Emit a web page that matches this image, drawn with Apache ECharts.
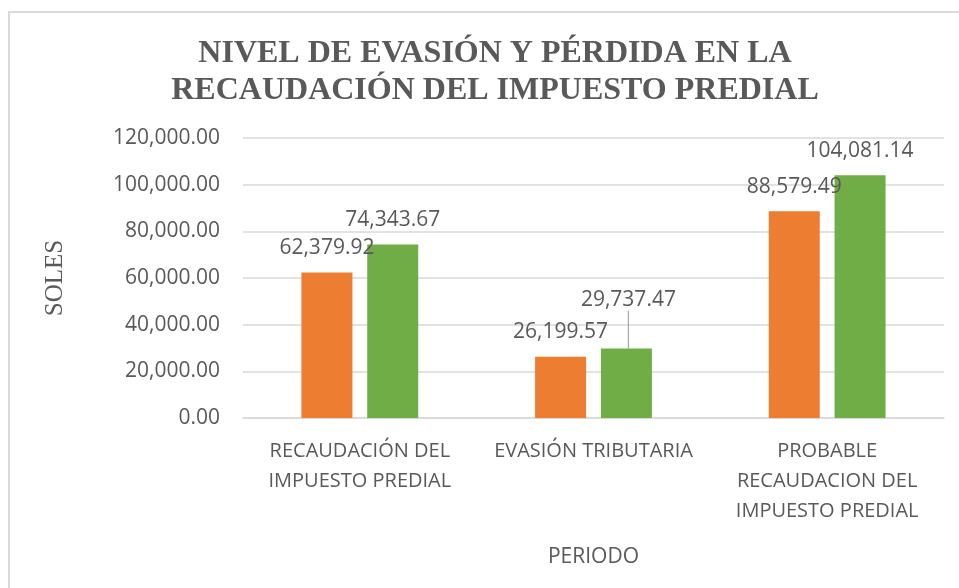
<!DOCTYPE html>
<html>
<head>
<meta charset="utf-8">
<script src="https://cdn.jsdelivr.net/npm/echarts@6/dist/echarts.min.js"></script>
<style>
	html, body { margin: 0; padding: 0; background: #fff; }
	#main { width: 959px; height: 588px; }
</style>
</head>
<body>
<div id="main"></div>
<script>
	var titleText = 'NIVEL DE EVASIÓN Y PÉRDIDA EN LA\nRECAUDACIÓN DEL IMPUESTO PREDIAL';
	var categories = ['RECAUDACIÓN DEL\nIMPUESTO PREDIAL', 'EVASIÓN TRIBUTARIA', 'PROBABLE\nRECAUDACION DEL\nIMPUESTO PREDIAL'];
	var serie1 = [62379.92, 26199.57, 88579.49];
	var serie2 = [74343.67, 29737.47, 104081.14];
	var yMin = 0, yMax = 120000, yStep = 20000;

	var textColor = '#595959';
	var gridColor = '#d9d9d9';

	function fmt(v) {
		return Number(v).toLocaleString('en-US', {minimumFractionDigits: 2, maximumFractionDigits: 2});
	}

	var labelStyle = {
		show: true,
		position: 'top',
		distance: 14,
		color: textColor,
		fontFamily: 'Open Sans',
		fontSize: 21,
		formatter: function(p) { return fmt(p.value); }
	};

	// only the moved label (evasión, serie 2) gets a leader line
	var serie2Items = serie2.map(function(v, i) {
		return {value: v, labelLine: {show: i === 1}};
	});

	var myChart = echarts.init(document.getElementById('main'));
	var option = {
		animation: false,
		backgroundColor: '#fff',
		title: {
			text: titleText,
			left: 490,
			textAlign: 'center',
			top: 30,
			textStyle: {
				fontFamily: 'Liberation Serif',
				fontWeight: 'bold',
				fontSize: 32,
				lineHeight: 37,
				color: textColor
			}
		},
		graphic: [{
			type: 'rect',
			shape: {x: 9, y: 12, width: 1000, height: 1000},
			style: {fill: 'none', stroke: gridColor, lineWidth: 2},
			silent: true
		}],
		grid: {
			left: 243,
			right: 15,
			top: 138,
			bottom: 170
		},
		xAxis: {
			type: 'category',
			data: categories,
			name: 'PERIODO',
			nameLocation: 'middle',
			nameGap: 129,
			nameTextStyle: {
				color: textColor,
				fontFamily: 'Open Sans',
				fontSize: 21
			},
			axisLine: {lineStyle: {color: gridColor, width: 1.5}},
			axisTick: {show: false},
			axisLabel: {
				interval: 0,
				margin: 18,
				color: textColor,
				fontFamily: 'Open Sans',
				fontSize: 20,
				lineHeight: 30
			}
		},
		yAxis: {
			type: 'value',
			min: yMin,
			max: yMax,
			interval: yStep,
			name: 'SOLES',
			nameLocation: 'middle',
			nameGap: 175,
			nameRotate: 90,
			nameTextStyle: {
				color: textColor,
				fontFamily: 'Liberation Serif',
				fontSize: 25
			},
			axisLine: {show: false},
			axisTick: {show: false},
			splitLine: {lineStyle: {color: gridColor, width: 1.5}},
			axisLabel: {
				margin: 23,
				color: textColor,
				fontFamily: 'Open Sans',
				fontSize: 21,
				formatter: function(v) { return fmt(v); }
			}
		},
		series: [{
			name: 'Serie 1',
			type: 'bar',
			data: serie1,
			barGap: '29%',
			barCategoryGap: '50%',
			itemStyle: {color: '#ED7D31'},
			label: labelStyle
		}, {
			name: 'Serie 2',
			type: 'bar',
			data: serie2Items,
			itemStyle: {color: '#70AD47'},
			label: labelStyle,
			labelLine: {show: false, lineStyle: {color: '#a6a6a6', width: 1.2}},
			labelLayout: function(p) {
				if (p.dataIndex === 1) {
					return {dy: -24, dx: 2};
				}
				return {};
			}
		}]
	};
	myChart.setOption(option);
</script>
</body>
</html>
